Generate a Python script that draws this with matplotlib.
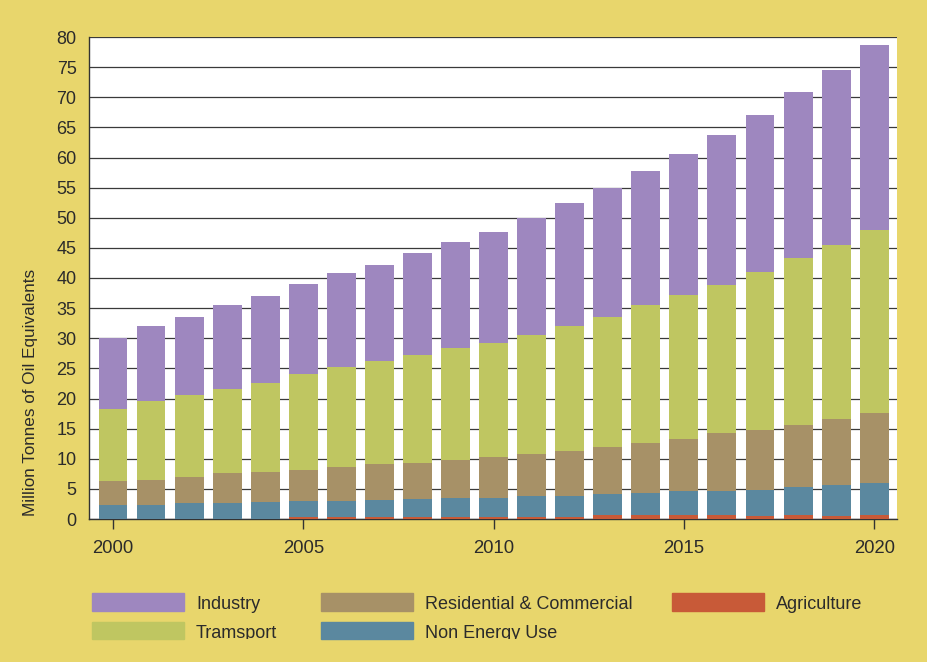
import matplotlib
matplotlib.use("Agg")
import matplotlib.pyplot as plt
from matplotlib.patches import Rectangle
from matplotlib.transforms import Bbox
import numpy as np

years = list(range(2000, 2021))
agriculture = [0, 0, 0, 0, 0, 0.3, 0.3, 0.3, 0.3, 0.3, 0.3, 0.3, 0.3,
               0.6, 0.6, 0.6, 0.6, 0.5, 0.6, 0.5, 0.6]
non_energy_top = [2.3, 2.3, 2.6, 2.6, 2.8, 3.0, 3.0, 3.2, 3.4, 3.5, 3.5,
                  3.8, 3.9, 4.1, 4.3, 4.6, 4.6, 4.8, 5.3, 5.6, 5.9]
residential_top = [6.3, 6.5, 7.0, 7.6, 7.8, 8.1, 8.6, 9.1, 9.3, 9.8, 10.3,
                   10.8, 11.3, 12.0, 12.6, 13.3, 14.2, 14.8, 15.6, 16.6, 17.6]
transport_top = [18.3, 19.6, 20.5, 21.5, 22.6, 24.0, 25.2, 26.2, 27.2, 28.3, 29.2,
                 30.6, 32.1, 33.5, 35.5, 37.1, 38.9, 41.0, 43.4, 45.5, 48.0]
industry_top = [30.0, 32.0, 33.5, 35.5, 37.0, 39.0, 40.8, 42.2, 44.1, 46.0, 47.7,
                50.0, 52.5, 55.0, 57.7, 60.6, 63.7, 67.1, 70.8, 74.5, 78.7]

y_ticks = list(range(0, 85, 5))
x_ticks = [2000, 2005, 2010, 2015, 2020]
y_label = "Million Tonnes of Oil Equivalents"
legend_labels = ["Industry", "Residential & Commercial", "Agriculture",
                 "Tramsport", "Non Energy Use"]

c_ind = "#9e87bf"
c_tra = "#bfc661"
c_res = "#a79167"
c_agr = "#c85a38"
c_non = "#5b889f"
bg = "#e8d66c"

NARROW = ["Liberation Sans Narrow", "Liberation Sans", "DejaVu Sans"]
SANS = ["Liberation Sans", "DejaVu Sans"]

W, H = 928, 662
fig = plt.figure(figsize=(W/100, H/100), dpi=100, facecolor=bg)
ax = fig.add_axes([89/W, 1-519/H, (897-89)/W, (519-37)/H])
ax.set_facecolor("white")

agr = np.array(agriculture)
non = np.array(non_energy_top) - agr
res = np.array(residential_top) - np.array(non_energy_top)
tra = np.array(transport_top) - np.array(residential_top)
ind = np.array(industry_top) - np.array(transport_top)

w = 0.76
ax.bar(years, agr, w, color=c_agr, zorder=3)
ax.bar(years, non, w, bottom=agr, color=c_non, zorder=3)
ax.bar(years, res, w, bottom=non_energy_top, color=c_res, zorder=3)
ax.bar(years, tra, w, bottom=residential_top, color=c_tra, zorder=3)
ax.bar(years, ind, w, bottom=transport_top, color=c_ind, zorder=3)

ax.set_xlim(1999.37, 2020.6)
ax.set_ylim(0, 80)
ax.set_yticks(y_ticks)
ax.set_yticklabels([str(v) for v in y_ticks], fontsize=13, family=SANS, color="#2b2b2b")
ax.set_xticks(x_ticks)
ax.set_xticklabels([str(v) for v in x_ticks], fontsize=13.3, family=SANS, color="#2b2b2b")
ax.tick_params(axis="y", length=0, pad=9)
ax.tick_params(axis="x", length=7, width=1, color="#333333", pad=8)
ax.yaxis.grid(True, color="#3a3a3a", linewidth=0.9, zorder=0)
ax.set_axisbelow(True)
for s in ["top", "right"]:
    ax.spines[s].set_visible(False)
for s in ["left", "bottom"]:
    ax.spines[s].set_color("#333333")
    ax.spines[s].set_linewidth(1)

fig.text(31/W, 1-392/H, y_label, rotation=90, ha="center", va="center",
         fontsize=12.3, family=NARROW, color="#2b2b2b")

# Legend (manual, clipped at the bottom like the reference)
clip_y = 638.7
clip = Bbox.from_extents(0, H-clip_y, W, H)
legend_colors = [c_ind, c_res, c_agr, c_tra, c_non]
legend_pos = [(92, 593), (321, 593), (672, 593), (92, 622), (321, 622)]
for label, col, (x0, y0) in zip(legend_labels, legend_colors, legend_pos):
    y1 = min(y0 + 18, clip_y)
    fig.patches.append(Rectangle((x0/W, 1-y1/H), 92/W, (y1-y0)/H,
                                 transform=fig.transFigure, color=col))
    t = fig.text((x0+104)/W, 1-(y0+16)/H, label, fontsize=13, family=NARROW,
                 color="#2b2b2b", va="baseline", ha="left")
    t.set_clip_box(clip)
    t.set_clip_on(True)

fig.savefig("out.png", dpi=100, facecolor=bg)
